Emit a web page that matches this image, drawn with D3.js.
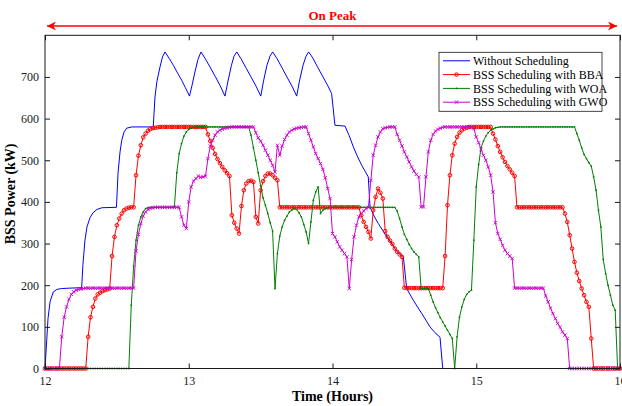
<!DOCTYPE html>
<html><head><meta charset="utf-8">
<script src="https://cdn.jsdelivr.net/npm/d3@7"></script>
<style>
body{margin:0;background:#fff;}
svg{display:block;font-family:"Liberation Serif","Times New Roman",serif;}
</style>
</head><body>
<svg id="chart" width="622" height="406"></svg>
<script>
// ---------------- data ----------------
const xTicks = [12, 13, 14, 15, 16];
const yTicks = [0, 100, 200, 300, 400, 500, 600, 700];
const xDomain = [12, 16];
const yDomain = [0, 800];
const seriesNames = ["Without Scheduling", "BSS Scheduling with BBA", "BSS Scheduling with WOA", "BSS Scheduling with GWO"];
const xLabel = "Time (Hours)";
const yLabel = "BSS Power (kW)";
const peakLabel = "On Peak";
const peakRange = [12, 16];

// Without scheduling (hours, kW)
const blueTime = [12.000,12.012,12.021,12.035,12.058,12.083,12.116,12.174,12.255,12.264,12.278,12.292,12.313,12.334,12.362,12.397,12.497,
  12.508,12.522,12.534,12.550,12.568,12.605,12.753,12.765,12.779,12.800,12.817,12.835,12.863,12.893,12.918,12.951,12.977,13.005,
  13.023,13.043,13.064,13.085,13.113,13.148,13.183,13.217,13.252,13.273,13.297,13.315,13.334,13.363,13.398,13.433,13.468,13.501,
  13.520,13.544,13.565,13.584,13.614,13.649,13.683,13.718,13.751,13.770,13.795,13.816,13.834,13.864,13.899,13.934,13.969,13.994,
  14.017,14.087,14.115,14.145,14.170,14.203,14.226,14.249,14.261,14.289,14.319,14.348,14.377,14.407,14.435,14.463,14.493,14.516,
  14.539,14.562,14.591,14.621,14.650,14.678,14.713,14.748,14.767,16.000];
const blueValue = [0,68,120,160,184,190,192,193,194,250,308,340,362,374,382,386,387,
  469,520,548,568,577,580,580,652,690,724,748,760,745,728,712,692,674,654,
  680,712,742,760,745,724,702,680,654,690,728,750,760,744,722,700,678,654,
  690,728,750,760,744,722,700,678,654,690,728,750,760,745,722,700,678,660,
  584,582,560,532,512,488,474,460,388,366,348,332,316,302,288,278,268,192,
  178,164,148,132,116,100,86,75,0,0];

// Scheduled series, one value per minute from 12:00 to 16:00
const sampleStartHour = 12;
const bbaValue = [
  0,0,0,0,0,0,0,0,0,0,
  0,0,0,0,0,0,0,0,76,123,
  148,168,178,182,186,188,190,192,270,316,
  344,360,372,380,384,386,387,387,464,511,
  536,555,564,571,575,577,578,579,580,580,
  580,580,580,580,580,580,580,580,580,580,
  580,580,580,580,580,580,580,580,562,546,
  530,515,503,493,484,476,469,462,368,350,
  336,324,390,428,444,450,451,448,364,348,
  428,450,462,468,468,464,458,452,387,387,
  387,387,387,387,387,387,387,387,387,387,
  387,387,387,387,387,387,387,387,387,387,
  387,387,387,387,387,387,387,387,387,387,
  387,387,368,352,340,328,312,380,412,432,
  422,408,330,316,307,299,288,280,274,268,
  194,193,193,193,193,193,193,193,193,193,
  193,193,193,193,193,193,193,270,392,464,
  512,540,556,566,572,576,578,580,580,580,
  580,580,580,580,580,580,580,564,550,534,
  520,507,496,486,478,470,462,387,387,387,
  387,387,387,387,387,387,387,387,387,387,
  387,387,387,387,387,387,387,372,352,320,
  288,256,230,210,192,176,160,148,72,0,
  0,0,0,0,0,0,0,0,0,0,
  0];
const woaValue = [
  0,0,0,0,0,0,0,0,0,0,
  0,0,0,0,0,0,0,0,0,0,
  0,0,0,0,0,0,0,0,0,0,
  0,0,0,0,0,0,152,246,308,344,
  364,376,384,386,387,387,387,387,387,387,
  387,387,387,387,387,470,516,540,558,568,
  574,577,579,580,580,580,580,580,580,580,
  580,580,580,580,580,580,580,580,580,580,
  580,580,580,580,580,580,560,530,500,470,
  438,410,392,372,350,330,192,276,318,340,
  356,366,376,380,384,382,374,364,346,328,
  300,352,404,424,436,372,380,384,386,387,
  387,387,387,387,387,387,387,387,387,387,
  387,387,387,387,387,387,387,387,387,387,
  387,387,387,387,387,387,387,378,360,340,
  322,310,298,288,280,274,268,192,192,192,
  192,176,160,146,134,122,112,102,92,82,
  72,0,76,123,148,166,178,184,188,308,
  436,490,530,546,558,566,572,575,578,579,
  580,580,580,580,580,580,580,580,580,580,
  580,580,580,580,580,580,580,580,580,580,
  580,580,580,580,580,580,580,580,580,580,
  580,580,564,548,530,514,504,494,486,460,
  428,380,340,262,228,200,176,152,140,0,
  0];
const gwoValue = [
  0,0,0,0,0,0,0,76,123,148,
  166,178,184,188,190,191,192,193,193,193,
  193,193,193,193,193,193,193,193,193,193,
  193,193,193,193,193,193,193,193,282,322,
  348,366,376,382,385,386,387,387,387,387,
  387,387,387,387,387,387,387,364,344,336,
  400,436,450,456,462,459,460,462,504,534,
  548,560,568,572,575,577,578,579,580,580,
  580,580,580,580,580,580,580,580,566,554,
  546,536,524,512,500,488,472,536,512,534,
  550,560,568,572,575,577,578,579,580,580,
  564,548,532,516,504,492,478,458,432,408,
  324,316,304,292,284,276,268,192,262,316,
  344,364,372,378,384,387,452,512,536,556,
  568,576,578,579,580,580,580,562,548,534,
  520,508,496,484,474,466,460,388,388,460,
  520,548,562,570,574,577,579,580,580,580,
  580,580,580,580,580,580,580,580,580,576,
  556,542,526,512,500,484,464,424,350,324,
  310,296,284,276,270,264,193,193,193,193,
  193,193,193,193,193,193,193,193,193,174,
  160,145,132,120,108,99,88,80,72,0,
  0,0,0,0,0,0,0,0,0,0,
  0,0,0,0,0,0,0,0,0,0,
  0];

// ---------------- styles ----------------
const style = {
  colors: ["#0000ff", "#ff0000", "#008000", "#cc00cc"],
  markers: ["none", "circle", "dot", "cross"],
  axisColor: "#1a1a1a",
  peakColor: "#ff0000"
};

// ---------------- drawing ----------------
const svg = d3.select("#chart");
const plot = {left: 45, right: 620, top: 35.3, bottom: 368.5};
const x = d3.scaleLinear().domain(xDomain).range([plot.left, plot.right]);
const y = d3.scaleLinear().domain(yDomain).range([plot.bottom, plot.top]);

svg.append("rect").attr("width", 622).attr("height", 406).attr("fill", "#fff");

const toMinutes = vals => vals.map((v, i) => ({t: sampleStartHour + i / 60, v}));
const series = [
  blueTime.map((t, i) => ({t, v: blueValue[i]})),
  toMinutes(bbaValue),
  toMinutes(woaValue),
  toMinutes(gwoValue)
];

const line = d3.line().x(d => x(d.t)).y(d => y(d.v));

function drawMarker(g, kind, color, px, py) {
  if (kind === "circle") {
    g.append("circle").attr("cx", px).attr("cy", py).attr("r", 1.8)
      .attr("fill", "none").attr("stroke", color).attr("stroke-width", 1);
  } else if (kind === "dot") {
    g.append("circle").attr("cx", px).attr("cy", py).attr("r", 0.9).attr("fill", color);
  } else if (kind === "cross") {
    const s = 1.7;
    g.append("path").attr("d", `M${px-s},${py-s}L${px+s},${py+s}M${px-s},${py+s}L${px+s},${py-s}`)
      .attr("stroke", color).attr("stroke-width", 0.9).attr("fill", "none");
  }
}

series.forEach((data, k) => {
  const g = svg.append("g");
  g.append("path").datum(data).attr("d", line)
    .attr("fill", "none").attr("stroke", style.colors[k]).attr("stroke-width", 1)
    .attr("stroke-linejoin", "round");
  if (style.markers[k] !== "none") {
    data.forEach(d => drawMarker(g, style.markers[k], style.colors[k], x(d.t), y(d.v)));
  }
});

// axes box + ticks
const axisFont = g => g.selectAll("text").attr("font-size", 12).attr("fill", "#1a1a1a")
  .attr("font-family", '"Liberation Serif","Times New Roman",serif');
const styleAxis = g => { g.select(".domain").remove(); g.selectAll("line").attr("stroke", style.axisColor); };

svg.append("g").attr("transform", `translate(0,${plot.bottom})`)
  .call(d3.axisBottom(x).tickValues(xTicks).tickSize(-5).tickPadding(8).tickFormat(d3.format("d")))
  .call(styleAxis).call(axisFont);
svg.append("g").attr("transform", `translate(0,${plot.top})`)
  .call(d3.axisTop(x).tickValues(xTicks).tickSize(-5).tickFormat(""))
  .call(styleAxis);
svg.append("g").attr("transform", `translate(${plot.left},0)`)
  .call(d3.axisLeft(y).tickValues(yTicks).tickSize(-5).tickPadding(6).tickFormat(d3.format("d")))
  .call(styleAxis).call(axisFont);
svg.append("g").attr("transform", `translate(${plot.right},0)`)
  .call(d3.axisRight(y).tickValues(yTicks).tickSize(-5).tickFormat(""))
  .call(styleAxis);
svg.selectAll(".domain").remove();
svg.append("rect").attr("x", plot.left).attr("y", plot.top)
  .attr("width", plot.right - plot.left).attr("height", plot.bottom - plot.top)
  .attr("fill", "none").attr("stroke", style.axisColor).attr("stroke-width", 1);

// axis titles
svg.append("text").attr("x", (plot.left + plot.right) / 2).attr("y", 401)
  .attr("text-anchor", "middle").attr("font-weight", "bold").attr("font-size", 14).attr("fill", "#000")
  .text(xLabel);
svg.append("text").attr("transform", `translate(15,${(plot.top + plot.bottom) / 2 - 8}) rotate(-90)`)
  .attr("text-anchor", "middle").attr("font-weight", "bold").attr("font-size", 14).attr("fill", "#000")
  .text(yLabel);

// On-peak arrow
const defs = svg.append("defs");
["s", "e"].forEach(id => {
  defs.append("marker").attr("id", "arr-" + id).attr("viewBox", "0 0 10 10")
    .attr("refX", id === "e" ? 10 : 0).attr("refY", 5).attr("markerWidth", 9).attr("markerHeight", 9)
    .attr("markerUnits", "userSpaceOnUse").attr("orient", "auto")
    .append("path").attr("d", id === "e" ? "M0,0L10,5L0,10L3,5Z" : "M10,0L0,5L10,10L7,5Z")
    .attr("fill", style.peakColor);
});
svg.append("line").attr("x1", x(peakRange[0]) + 2).attr("x2", x(peakRange[1]) - 3)
  .attr("y1", 26).attr("y2", 26).attr("stroke", style.peakColor).attr("stroke-width", 1.5)
  .attr("marker-start", "url(#arr-s)").attr("marker-end", "url(#arr-e)");
svg.append("text").attr("x", x((peakRange[0] + peakRange[1]) / 2)).attr("y", 19.5)
  .attr("text-anchor", "middle").attr("font-weight", "bold").attr("font-size", 13)
  .attr("fill", style.peakColor).text(peakLabel);

// legend
const lg = svg.append("g").attr("transform", "translate(439,52.3)");
lg.append("rect").attr("width", 163).attr("height", 59).attr("fill", "#fff")
  .attr("stroke", "#1a1a1a").attr("stroke-width", 0.8);
seriesNames.forEach((name, k) => {
  const yy = 8.5 + k * 13.8;
  lg.append("line").attr("x1", 4).attr("x2", 31).attr("y1", yy).attr("y2", yy)
    .attr("stroke", style.colors[k]).attr("stroke-width", 1);
  if (style.markers[k] !== "none") drawMarker(lg, style.markers[k], style.colors[k], 17.5, yy);
  lg.append("text").attr("x", 34).attr("y", yy).attr("dy", "0.35em")
    .attr("font-size", 12).attr("fill", "#000").text(name);
});
</script>
</body></html>
